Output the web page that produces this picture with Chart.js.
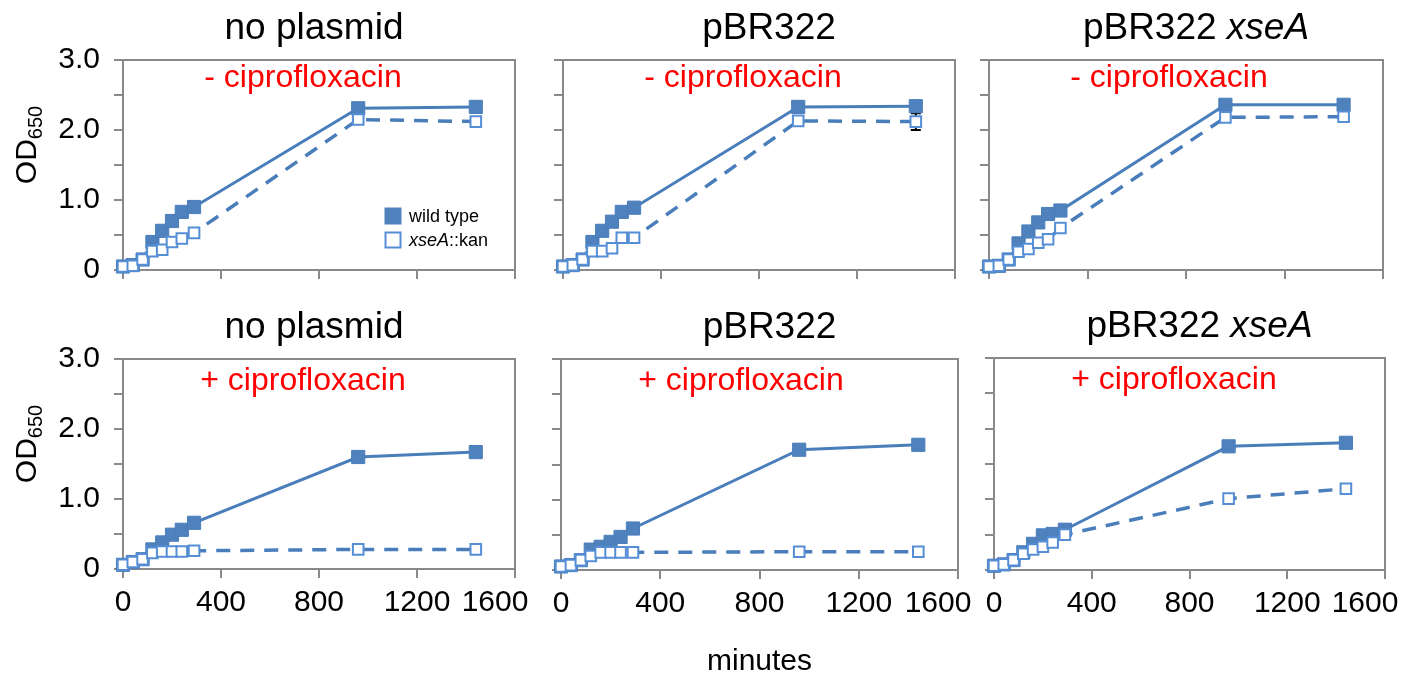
<!DOCTYPE html>
<html><head><meta charset="utf-8">
<script src="https://cdn.jsdelivr.net/npm/chart.js@4.4.1/dist/chart.umd.min.js"></script>
<style>
html,body{margin:0;padding:0;background:#fff;width:1408px;height:677px;overflow:hidden;position:relative}
.panel{position:absolute}
.panel canvas{display:block}
</style></head><body>
<script>
// ---------- data ----------
const minutes = [0, 40, 80, 120, 160, 200, 240, 290, 960, 1440];
const xTickValues = [0, 400, 800, 1200, 1600];
const xTickLabels = ['0', '400', '800', '1200', '1600'];
const yTickValues = [0, 0.5, 1.0, 1.5, 2.0, 2.5, 3.0];
const yTickLabels = ['0', '', '1.0', '', '2.0', '', '3.0'];
const seriesNames = ['wild type', 'xseA::kan'];
const conditionLabels = ['- ciprofloxacin', '+ ciprofloxacin'];
const yAxisTitle = ['OD', '650'];
const xAxisTitle = 'minutes';

// - ciprofloxacin
const wtNoPlasmidMinus  = [0.05, 0.07, 0.15, 0.40, 0.56, 0.70, 0.83, 0.90, 2.31, 2.33];
const xseNoPlasmidMinus = [0.05, 0.06, 0.15, 0.27, 0.29, 0.40, 0.45, 0.53, 2.15, 2.12];
const wtPBRMinus        = [0.05, 0.07, 0.15, 0.40, 0.56, 0.69, 0.83, 0.89, 2.33, 2.34];
const xsePBRMinus       = [0.05, 0.07, 0.15, 0.27, 0.27, 0.31, 0.46, 0.46, 2.13, 2.12];
const xsePBRMinusErr    = [0, 0, 0, 0, 0, 0, 0, 0, 0, 0.12];
const wtPBRxseMinus     = [0.05, 0.06, 0.15, 0.38, 0.55, 0.68, 0.80, 0.85, 2.36, 2.36];
const xsePBRxseMinus    = [0.05, 0.06, 0.15, 0.26, 0.30, 0.39, 0.44, 0.60, 2.18, 2.19];
// + ciprofloxacin
const wtNoPlasmidPlus   = [0.06, 0.10, 0.14, 0.28, 0.38, 0.49, 0.56, 0.66, 1.60, 1.67];
const xseNoPlasmidPlus  = [0.06, 0.10, 0.14, 0.23, 0.25, 0.25, 0.25, 0.26, 0.28, 0.28];
const wtPBRPlus         = [0.05, 0.07, 0.14, 0.29, 0.33, 0.40, 0.47, 0.59, 1.71, 1.78];
const xsePBRPlus        = [0.05, 0.07, 0.14, 0.20, 0.25, 0.25, 0.25, 0.25, 0.26, 0.26];
const wtPBRxsePlus      = [0.06, 0.08, 0.14, 0.25, 0.37, 0.49, 0.51, 0.57, 1.75, 1.80];
const xsePBRxsePlus     = [0.06, 0.08, 0.14, 0.23, 0.29, 0.33, 0.39, 0.50, 1.01, 1.15];

// title segments: [text, italic]
const titleNoPlasmid = [['no plasmid', false]];
const titlePBR = [['pBR322', false]];
const titlePBRxse = [['pBR322 ', false], ['xseA', true]];

// ---------- style ----------
const GRAY = '#898989';
const FONT = "'Liberation Sans', Arial, Helvetica, sans-serif";
const LINE = '#4A7EBB', FILL = '#4F81BD', OPEN = '#558ED5';
const ML = 120, MT = 60, MR = 45, MB = 105;

const panels = [
  {area:[123, 60, 515, 270], row:0, title:titleNoPlasmid, titleDx:-5, wt:wtNoPlasmidMinus, xse:xseNoPlasmidMinus, legend:true, ylab:true},
  {area:[563, 60, 955, 270], row:0, title:titlePBR, titleDx:10, wt:wtPBRMinus, xse:xsePBRMinus, err:xsePBRMinusErr},
  {area:[989, 60, 1383, 270], row:0, title:titlePBRxse, titleDx:10, wt:wtPBRxseMinus, xse:xsePBRxseMinus},
  {area:[123, 359, 515, 569], row:1, title:titleNoPlasmid, titleDx:-5, wt:wtNoPlasmidPlus, xse:xseNoPlasmidPlus, ylab:true},
  {area:[561, 359, 958, 570], row:1, title:titlePBR, titleDx:10, wt:wtPBRPlus, xse:xsePBRPlus, xlab:true},
  {area:[994, 358, 1385, 570], row:1, title:titlePBRxse, titleDx:10, wt:wtPBRxsePlus, xse:xsePBRxsePlus}
];

function drawRich(ctx, segs, x0, y, size, color, centered) {
  ctx.save();
  ctx.fillStyle = color; ctx.textBaseline = 'alphabetic'; ctx.textAlign = 'left';
  const widths = segs.map(([t, it]) => { ctx.font = (it ? 'italic ' : '') + size + 'px ' + FONT; return ctx.measureText(t).width; });
  const total = widths.reduce((a, b) => a + b, 0);
  let x = centered ? x0 - total / 2 : x0;
  segs.forEach(([t, it], k) => { ctx.font = (it ? 'italic ' : '') + size + 'px ' + FONT; ctx.fillText(t, x, y); x += widths[k]; });
  ctx.restore();
}

function makePlugin(p) {
  return {
    id: 'panelDeco',
    beforeDraw(chart) {
      // keep the last x label inside the panel, as in the original figure
      if (p.row === 1) {
        const items = chart.scales.x.getLabelItems();
        if (items && items.length) {
          const last = items[items.length - 1];
          last.options.translation[0] -= 20;
        }
      }
    },
    beforeDatasetsDraw(chart) {
      const ctx = chart.ctx, a = chart.chartArea;
      ctx.save();
      ctx.strokeStyle = GRAY; ctx.lineWidth = 2;
      ctx.beginPath(); ctx.moveTo(a.left, a.top); ctx.lineTo(a.right, a.top); ctx.lineTo(a.right, a.bottom); ctx.stroke();
      if (p.err) {
        const xs = chart.scales.x, ys = chart.scales.y;
        ctx.strokeStyle = '#000'; ctx.lineWidth = 2;
        p.err.forEach((e, i) => {
          if (!e) return;
          const px = xs.getPixelForValue(minutes[i]);
          const y1 = ys.getPixelForValue(p.xse[i] - e), y2 = ys.getPixelForValue(p.xse[i] + e);
          ctx.beginPath();
          ctx.moveTo(px, y1); ctx.lineTo(px, y2);
          ctx.moveTo(px - 5, y1); ctx.lineTo(px + 5, y1);
          ctx.moveTo(px - 5, y2); ctx.lineTo(px + 5, y2);
          ctx.stroke();
        });
      }
      ctx.restore();
    },
    afterDraw(chart) {
      const ctx = chart.ctx, a = chart.chartArea;
      const cx = (a.left + a.right) / 2;
      drawRich(ctx, p.title, cx + p.titleDx, a.top - 21, 37, '#000', true);
      drawRich(ctx, [[conditionLabels[p.row], false]], a.left + 180, a.top + (p.row ? 31 : 27), 32, '#FF0000', true);
      if (p.ylab) {
        ctx.save();
        const cy = (a.top + a.bottom) / 2 - 20;
        ctx.translate(a.left - 87, cy);
        ctx.rotate(-Math.PI / 2);
        ctx.fillStyle = '#000'; ctx.textAlign = 'left'; ctx.textBaseline = 'alphabetic';
        ctx.font = '30px ' + FONT;
        const w1 = ctx.measureText(yAxisTitle[0]).width;
        ctx.font = '20px ' + FONT;
        const w2 = ctx.measureText(yAxisTitle[1]).width;
        const x0 = -(w1 + w2) / 2;
        ctx.font = '30px ' + FONT;
        ctx.fillText(yAxisTitle[0], x0, 0);
        ctx.font = '20px ' + FONT;
        ctx.fillText(yAxisTitle[1], x0 + w1, 6);
        ctx.restore();
      }
      if (p.xlab) {
        drawRich(ctx, [[xAxisTitle, false]], cx, a.bottom + 100, 30, '#000', true);
      }
      if (p.legend) {
        const lx = a.right - 122;
        ctx.save();
        ctx.fillStyle = FILL;
        ctx.fillRect(lx - 8.5, a.top + 156 - 8.5, 17, 17);
        ctx.fillStyle = '#fff'; ctx.strokeStyle = OPEN; ctx.lineWidth = 2;
        ctx.fillRect(lx - 7.5, a.top + 180 - 7.5, 15, 15);
        ctx.strokeRect(lx - 7.5, a.top + 180 - 7.5, 15, 15);
        ctx.restore();
        drawRich(ctx, [[seriesNames[0], false]], lx + 16, a.top + 162, 18, '#000', false);
        drawRich(ctx, [['xseA', true], ['::kan', false]], lx + 16, a.top + 186, 18, '#000', false);
      }
    }
  };
}

function makePanel(p) {
  const [L, T, R, B] = p.area;
  const w = R - L + ML + MR, h = B - T + MT + MB;
  const div = document.createElement('div');
  div.className = 'panel';
  div.style.left = (L - ML) + 'px';
  div.style.top = (T - MT) + 'px';
  div.style.width = w + 'px'; div.style.height = h + 'px';
  const cv = document.createElement('canvas');
  cv.width = w; cv.height = h;
  div.appendChild(cv);
  document.body.appendChild(div);

  const gridOpts = {display: true, drawOnChartArea: false, drawTicks: true, tickLength: 9, color: GRAY, lineWidth: 2};
  const borderOpts = {display: true, color: GRAY, width: 2};

  new Chart(cv, {
    type: 'line',
    data: {
      datasets: [
        {
          label: seriesNames[1],
          data: p.xse.map((v, i) => ({x: minutes[i], y: v})),
          order: 0,
          borderColor: LINE, borderWidth: 3.5, borderDash: [14, 10],
          pointStyle: 'rect', pointRadius: 7.5, pointBorderWidth: 2,
          pointBackgroundColor: '#fff', pointBorderColor: OPEN,
          tension: 0, fill: false, clip: false
        },
        {
          label: seriesNames[0],
          data: p.wt.map((v, i) => ({x: minutes[i], y: v})),
          order: 1,
          borderColor: LINE, borderWidth: 3,
          pointStyle: 'rect', pointRadius: 9.3, pointBorderWidth: 1,
          pointBackgroundColor: FILL, pointBorderColor: LINE,
          tension: 0, fill: false, clip: false
        }
      ]
    },
    options: {
      responsive: false, animation: false, devicePixelRatio: 1,
      layout: {padding: {left: 0, top: MT, right: MR, bottom: 0}},
      plugins: {legend: {display: false}, tooltip: {enabled: false}, title: {display: false}},
      scales: {
        x: {
          type: 'linear', min: 0, max: 1600,
          afterBuildTicks: s => { s.ticks = xTickValues.map(v => ({value: v})); },
          afterFit: s => { s.height = MB; },
          grid: gridOpts, border: borderOpts,
          ticks: {
            autoSkip: false, maxRotation: 0, padding: 7, color: '#000',
            font: {family: FONT, size: 30},
            callback: (v, i) => p.row === 1 ? xTickLabels[i] : ''
          }
        },
        y: {
          type: 'linear', min: 0, max: 3,
          afterBuildTicks: s => { s.ticks = yTickValues.map(v => ({value: v})); },
          afterFit: s => { s.width = ML; },
          grid: gridOpts, border: borderOpts,
          ticks: {
            autoSkip: false, padding: 14, color: '#000',
            font: {family: FONT, size: 30},
            callback: (v, i) => p.ylab ? yTickLabels[i] : ''
          }
        }
      }
    },
    plugins: [makePlugin(p)]
  });
}

panels.forEach(makePanel);
</script>
</body></html>
